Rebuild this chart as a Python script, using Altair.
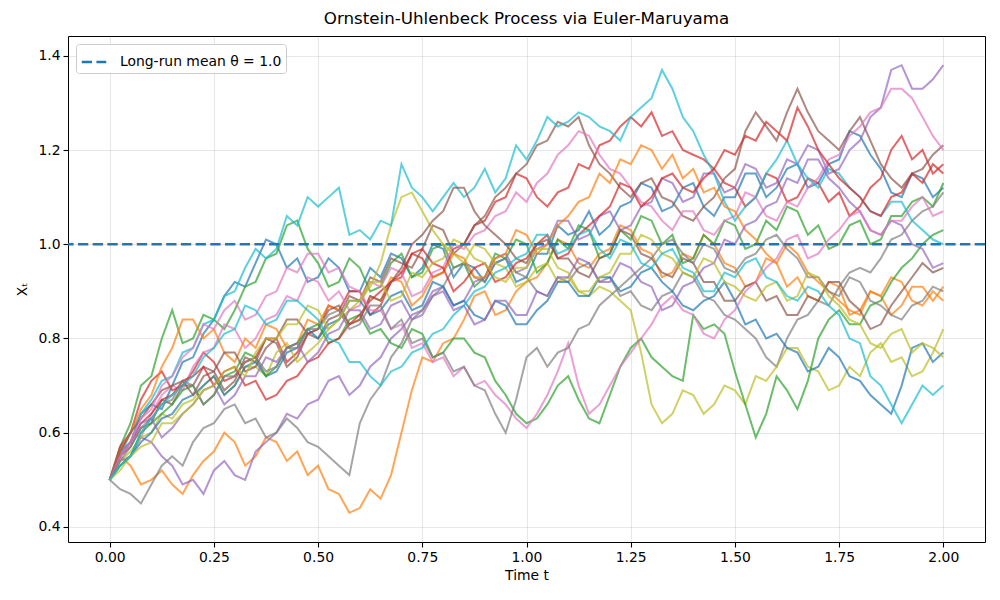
import altair as alt
import pandas as pd

# time grid (values read at 0.025 steps)
t_values = [round(0.025 * k, 3) for k in range(81)]

path_colors = ["#1f77b4", "#ff7f0e", "#2ca02c", "#d62728", "#9467bd",
               "#8c564b", "#e377c2", "#7f7f7f", "#bcbd22", "#17becf"]

paths = {
 "p00": [.50,.56,.58,.64,.66,.65,.70,.75,.76,.81,
         .84,.89,.92,.91,.96,1.01,1.00,.95,.97,.92,
         .93,.97,.95,.90,.90,.95,.93,.98,.97,.93,
         .95,1.00,.99,.93,.96,.95,.92,.96,.97,.92,
         .93,.98,.98,1.04,1.02,1.03,1.07,1.02,1.04,1.08,
         1.09,1.13,1.12,1.07,1.08,1.12,1.13,1.08,1.06,1.10,
         1.10,1.15,1.15,1.10,1.12,1.16,1.17,1.12,1.13,1.17,
         1.18,1.24,1.23,1.19,1.16,1.11,1.10,1.15,1.14,1.10,
         1.12],
 "p01": [.50,.55,.53,.49,.50,.52,.49,.47,.51,.54,
         .56,.60,.58,.53,.55,.59,.58,.54,.56,.51,
         .53,.48,.47,.43,.44,.48,.46,.51,.60,.69,
         .76,.75,.79,.80,.84,.89,.90,.85,.86,.90,
         .92,.93,.96,1.01,1.00,.96,.95,.98,.99,1.04,
         1.03,.99,.98,.93,.94,.98,.97,1.02,1.00,.96,
         .95,.91,.92,.97,.96,.91,.93,.89,.88,.92,
         .91,.85,.86,.90,.89,.93,.92,.88,.87,.90,
         .88],
 "p02": [.50,.57,.62,.70,.72,.80,.86,.79,.80,.85,
         .84,.82,.86,.91,.92,.97,.98,1.04,1.05,.99,
         .96,.91,.92,.97,.95,.90,.91,.96,.98,.93,
         .94,.99,1.00,.95,.96,.91,.93,.98,.97,1.01,
         1.00,.94,.96,1.01,.99,1.04,1.03,.97,.98,1.03,
         1.01,1.06,1.05,1.00,1.02,.96,.97,1.02,1.00,1.05,
         1.04,.99,1.00,1.05,1.03,1.08,1.07,1.02,1.04,.99,
         1.00,1.04,1.05,1.00,1.01,1.06,1.06,1.09,1.10,1.08,
         1.13],
 "p03": [.50,.57,.60,.67,.71,.73,.69,.70,.73,.77,
         .75,.71,.72,.75,.76,.80,.80,.75,.77,.81,
         .82,.87,.86,.90,.90,.85,.87,.92,.93,.98,
         .97,.93,.94,.99,1.00,1.04,1.05,1.09,1.10,1.15,
         1.14,1.10,1.08,1.11,1.12,1.17,1.16,1.21,1.22,1.25,
         1.27,1.25,1.28,1.23,1.24,1.20,1.19,1.18,1.16,1.13,
         1.12,1.08,1.10,1.15,1.14,1.09,1.10,1.14,1.13,1.09,
         1.11,1.06,1.08,1.12,1.14,1.20,1.23,1.18,1.20,1.15,
         1.17],
 "p04": [.50,.54,.55,.59,.58,.55,.53,.49,.50,.47,
         .52,.54,.51,.50,.56,.58,.60,.64,.63,.66,
         .67,.71,.72,.68,.70,.74,.76,.80,.82,.85,
         .86,.90,.91,.87,.88,.92,.93,.97,.98,.94,
         .95,.99,1.00,1.05,1.05,1.01,1.02,1.06,1.07,1.03,
         1.04,1.08,1.09,1.14,1.13,1.09,1.10,1.15,1.15,1.11,
         1.12,1.17,1.16,1.12,1.13,1.18,1.17,1.21,1.20,1.15,
         1.16,1.20,1.22,1.27,1.29,1.37,1.38,1.33,1.33,1.35,
         1.38],
 "p05": [.50,.55,.57,.61,.62,.67,.66,.70,.70,.74,
         .73,.69,.71,.76,.75,.80,.79,.74,.76,.81,
         .80,.84,.85,.89,.88,.93,.92,.97,.96,.95,
         .99,1.04,1.03,.98,1.00,1.04,1.06,1.10,1.12,1.15,
         1.17,1.21,1.22,1.26,1.25,1.27,1.21,1.17,1.15,1.12,
         1.10,1.13,1.14,1.10,1.09,1.06,1.05,1.08,1.10,1.14,
         1.16,1.24,1.28,1.25,1.22,1.28,1.33,1.28,1.24,1.22,
         1.20,1.24,1.27,1.22,1.17,1.14,1.12,1.15,1.16,1.19,
         1.21],
 "p06": [.50,.56,.60,.59,.64,.68,.70,.69,.74,.77,
         .78,.83,.82,.78,.80,.84,.85,.89,.88,.93,
         .92,.88,.90,.86,.87,.92,.91,.95,.94,.89,
         .90,.94,.95,1.00,.99,1.02,1.03,1.06,1.07,1.11,
         1.09,1.13,1.15,1.19,1.21,1.24,1.23,1.19,1.16,1.15,
         1.12,1.09,1.08,1.05,1.03,1.07,1.07,1.03,1.02,1.05,
         1.06,1.11,1.10,1.06,1.05,1.09,1.08,1.12,1.14,1.18,
         1.19,1.23,1.25,1.28,1.29,1.33,1.33,1.31,1.27,1.23,
         1.20],
 "p07": [.50,.48,.47,.45,.49,.53,.55,.53,.58,.61,
         .62,.65,.66,.62,.63,.59,.60,.63,.61,.58,
         .57,.55,.53,.51,.62,.67,.70,.76,.79,.84,
         .86,.89,.91,.95,.96,.93,.92,.96,.97,.94,
         .93,.90,.89,.93,.92,.95,.96,.92,.93,.89,
         .90,.87,.86,.89,.90,.94,.93,.89,.88,.85,
         .84,.82,.80,.76,.74,.80,.84,.85,.88,.87,
         .91,.94,.95,.94,.97,1.01,1.02,1.05,1.07,1.08,
         1.11],
 "p08": [.50,.54,.56,.59,.60,.64,.63,.66,.67,.70,
         .72,.68,.70,.74,.74,.72,.77,.79,.75,.77,
         .79,.82,.84,.86,.88,.91,.96,1.04,1.10,1.11,
         1.07,1.03,1.00,.98,.96,1.00,.99,.96,.95,.91,
         .92,.95,.96,.92,.93,.90,.89,.91,.90,.88,
         .86,.77,.66,.62,.64,.69,.68,.64,.66,.70,
         .69,.66,.72,.71,.74,.78,.78,.74,.73,.69,
         .70,.74,.72,.77,.79,.75,.76,.72,.73,.77,
         .82],
 "p09": [.50,.55,.60,.64,.67,.71,.72,.77,.78,.83,
         .84,.89,.90,.95,.99,.97,.99,1.06,1.04,1.10,
         1.08,1.10,1.12,1.02,1.03,1.01,1.05,1.04,1.17,1.12,
         1.10,1.07,1.10,1.13,1.10,1.12,1.16,1.11,1.14,1.21,
         1.18,1.22,1.27,1.25,1.26,1.28,1.27,1.25,1.24,1.22,
         1.27,1.29,1.31,1.37,1.33,1.27,1.24,1.19,1.15,1.09,
         1.05,1.08,1.10,1.15,1.18,1.22,1.17,1.14,1.12,1.16,
         1.15,1.12,1.10,1.07,1.06,1.09,1.09,1.05,1.03,1.01,
         1.00],
 "p10": [.50,.53,.55,.58,.60,.63,.64,.67,.68,.70,
         .72,.68,.70,.74,.75,.72,.73,.77,.78,.82,
         .80,.83,.84,.88,.88,.85,.86,.89,.90,.86,
         .87,.92,.91,.87,.88,.85,.84,.88,.87,.83,
         .83,.86,.88,.92,.92,.89,.89,.93,.93,.90,
         .91,.94,.95,.92,.90,.87,.86,.88,.89,.92,
         .88,.83,.84,.80,.81,.78,.77,.73,.74,.78,
         .76,.72,.71,.68,.66,.64,.70,.78,.79,.75,
         .77],
 "p11": [.50,.56,.60,.65,.68,.74,.78,.84,.84,.80,
         .82,.77,.75,.80,.78,.83,.82,.78,.79,.84,
         .83,.87,.86,.83,.84,.89,.88,.93,.92,.87,
         .89,.93,.94,.98,.97,.93,.93,.97,.98,1.03,
         1.02,.98,1.00,1.04,1.06,1.09,1.10,1.15,1.13,1.18,
         1.17,1.21,1.20,1.16,1.19,1.14,1.16,1.11,1.12,1.08,
         1.07,1.03,1.01,.98,.96,1.00,.98,.94,.92,.90,
         .88,.86,.85,.90,.89,.85,.87,.91,.91,.88,
         .91],
 "p12": [.50,.53,.55,.60,.62,.64,.66,.69,.70,.66,
         .68,.72,.73,.77,.76,.72,.74,.78,.79,.82,
         .83,.79,.80,.84,.85,.81,.82,.79,.78,.82,
         .81,.76,.77,.80,.80,.77,.76,.71,.68,.64,
         .62,.63,.66,.70,.72,.67,.63,.62,.68,.74,
         .78,.80,.76,.74,.72,.71,.85,.82,.83,.81,
         .73,.66,.59,.64,.72,.69,.65,.71,.80,.84,
         .86,.83,.83,.87,.88,.92,.95,.97,1.00,1.02,
         1.03],
 "p13": [.50,.55,.58,.62,.64,.67,.68,.71,.72,.74,
         .70,.73,.74,.70,.71,.67,.68,.71,.72,.75,
         .76,.79,.80,.83,.85,.88,.90,.92,.94,.98,
         .99,.96,.95,.90,.92,.95,.96,.92,.93,.96,
         .97,1.00,1.02,.97,.98,1.02,1.04,1.06,1.08,1.13,
         1.12,1.08,1.10,1.14,1.15,1.12,1.11,1.14,1.16,1.20,
         1.19,1.23,1.22,1.26,1.24,1.22,1.29,1.25,1.20,1.17,
         1.14,1.12,1.10,1.07,1.06,1.10,1.11,1.15,1.13,1.17,
         1.15],
 "p14": [.50,.55,.58,.62,.63,.59,.61,.64,.66,.69,
         .70,.66,.68,.72,.72,.76,.75,.78,.79,.75,
         .77,.81,.82,.86,.86,.82,.83,.87,.88,.84,
         .85,.89,.90,.86,.87,.83,.84,.88,.88,.85,
         .85,.90,.89,.93,.93,.97,.96,.92,.92,.96,
         .95,.92,.91,.86,.87,.91,.92,.95,.96,1.01,
         1.00,1.04,1.05,1.08,1.09,1.14,1.13,1.18,1.18,1.14,
         1.12,1.09,1.07,1.03,1.02,1.05,1.04,1.00,.99,.95,
         .96],
 "p15": [.50,.56,.60,.63,.66,.69,.70,.71,.68,.72,
         .73,.77,.77,.73,.74,.78,.80,.84,.84,.81,
         .82,.86,.87,.83,.84,.89,.88,.92,.95,1.00,
         1.02,1.05,1.07,1.12,1.12,1.07,1.04,1.02,1.00,.97,
         .96,1.00,1.01,.97,.97,.94,.93,.97,.98,1.03,
         1.02,.98,.97,.94,.93,.97,.96,.92,.92,.88,
         .88,.91,.92,.88,.89,.85,.85,.89,.88,.92,
         .92,.88,.86,.82,.83,.87,.90,.93,.96,.94,
         .95],
 "p16": [.50,.55,.58,.63,.65,.70,.72,.76,.78,.83,
         .82,.86,.88,.84,.85,.89,.90,.95,.94,.98,
         .98,.94,.95,.91,.90,.86,.86,.82,.83,.78,
         .79,.75,.76,.72,.74,.70,.71,.68,.66,.63,
         .61,.64,.68,.73,.79,.70,.64,.66,.70,.74,
         .77,.80,.83,.87,.89,.86,.85,.81,.80,.84,
         .86,.90,.92,.95,.97,1.01,1.02,.97,.98,1.01,
         1.03,1.06,1.07,1.03,1.02,1.05,1.05,1.08,1.10,1.06,
         1.07],
 "p17": [.50,.54,.57,.61,.63,.66,.67,.71,.70,.66,
         .68,.72,.72,.75,.76,.73,.74,.78,.78,.82,
         .82,.85,.86,.82,.83,.87,.87,.82,.84,.79,
         .80,.76,.77,.73,.74,.70,.69,.64,.60,.67,
         .76,.78,.74,.77,.78,.82,.83,.87,.89,.91,
         .93,.95,.97,1.00,1.01,.98,.96,1.00,.99,.95,
         .94,.97,.98,1.01,1.02,.99,.97,.93,.93,.90,
         .89,.93,.92,.88,.87,.85,.84,.87,.88,.91,
         .90],
 "p18": [.50,.52,.55,.57,.58,.62,.62,.64,.66,.69,
         .70,.73,.74,.72,.77,.80,.80,.83,.83,.87,
         .86,.82,.84,.88,.88,.92,.92,.88,.89,.94,
         .93,.96,.97,1.01,1.00,.97,.96,.93,.92,.95,
         .95,.99,.99,.95,.94,.90,.90,.93,.94,.98,
         .98,1.02,1.01,.98,.97,.94,.93,.97,.96,.92,
         .91,.89,.88,.91,.92,.88,.89,.94,.93,.89,
         .87,.84,.83,.79,.78,.81,.82,.77,.79,.78,
         .76],
 "p19": [.50,.53,.55,.60,.63,.66,.68,.70,.72,.76,
         .78,.81,.82,.87,.86,.83,.84,.88,.88,.86,
         .84,.80,.79,.75,.75,.72,.70,.73,.74,.77,
         .78,.81,.82,.85,.87,.90,.91,.94,.95,.97,
         .98,1.02,1.02,.98,.99,1.02,1.03,.99,.97,1.01,
         1.00,.96,.95,.98,.99,.95,.94,.90,.90,.94,
         .93,.96,.97,.93,.92,.89,.88,.91,.90,.87,
         .85,.80,.79,.72,.70,.66,.62,.66,.70,.68,
         .70],
}

mean_value = 1.0
mean_label = "Long-run mean θ = 1.0"
title_text = "Ornstein-Uhlenbeck Process via Euler-Maruyama"
x_title = "Time t"
y_title = "Xₜ"
x_ticks = [0.0, 0.25, 0.5, 0.75, 1.0, 1.25, 1.5, 1.75, 2.0]
y_ticks = [0.4, 0.6, 0.8, 1.0, 1.2, 1.4]

rows = []
for name, vals in paths.items():
    assert len(vals) == len(t_values), (name, len(vals))
    for t, v in zip(t_values, vals):
        rows.append({"path": name, "t": t, "x": v})
df = pd.DataFrame(rows)
path_names = list(paths.keys())
color_range = [path_colors[i % 10] for i in range(len(path_names))]

xscale = alt.Scale(domain=[-0.1, 2.1], nice=False, zero=False)
yscale = alt.Scale(domain=[0.368, 1.442], nice=False, zero=False)

lines = alt.Chart(df).mark_line(strokeWidth=2.0, opacity=0.7).encode(
    x=alt.X("t:Q", scale=xscale, title=x_title,
            axis=alt.Axis(values=x_ticks, format=".2f")),
    y=alt.Y("x:Q", scale=yscale, title=y_title,
            axis=alt.Axis(values=y_ticks, format=".1f")),
    color=alt.Color("path:N", scale=alt.Scale(domain=path_names, range=color_range), legend=None),
    order=alt.Order("t:Q"),
)

mean_df = pd.DataFrame({"label": [mean_label], "y": [mean_value]})
rule = alt.Chart(mean_df).mark_rule(strokeWidth=2.7, strokeDash=[10.3, 4.4]).encode(
    y=alt.Y("y:Q", scale=yscale),
    stroke=alt.Stroke("label:N", scale=alt.Scale(domain=[mean_label], range=["#1f77b4"]),
                      legend=alt.Legend(title=None, orient="top-left", offset=8,
                                        symbolType="stroke", symbolStrokeWidth=2.7,
                                        symbolDash=[10.3, 4.4], symbolSize=600,
                                        labelFontSize=13.9, labelFont="DejaVu Sans",
                                        labelLimit=400,
                                        fillColor="white", strokeColor="#cccccc",
                                        cornerRadius=3, padding=4, labelOffset=12,
                                        labelColor="black")),
)

chart = alt.layer(lines, rule).properties(
    width=917, height=506,
    title=alt.Title(title_text, fontSize=16.7, font="DejaVu Sans", fontWeight="normal", offset=8, color="black"),
    autosize=alt.AutoSizeParams(type="none"),
    padding={"left": 60, "top": 28, "right": 7, "bottom": 50},
).configure_view(
    stroke="black", strokeWidth=1
).configure_axis(
    grid=True, gridColor="#b0b0b0", gridOpacity=0.3, gridWidth=1.1,
    domain=False, tickColor="black", tickSize=5, tickWidth=1.1,
    labelFont="DejaVu Sans", labelFontSize=13.9, labelColor="black",
    titleFont="DejaVu Sans", titleFontSize=13.9, titleFontWeight="normal", titleColor="black",
    labelPadding=3,
).configure_axisX(titlePadding=5).configure_axisY(titlePadding=8)

chart.save("out.html", embed_options={"renderer": "svg", "actions": False})
